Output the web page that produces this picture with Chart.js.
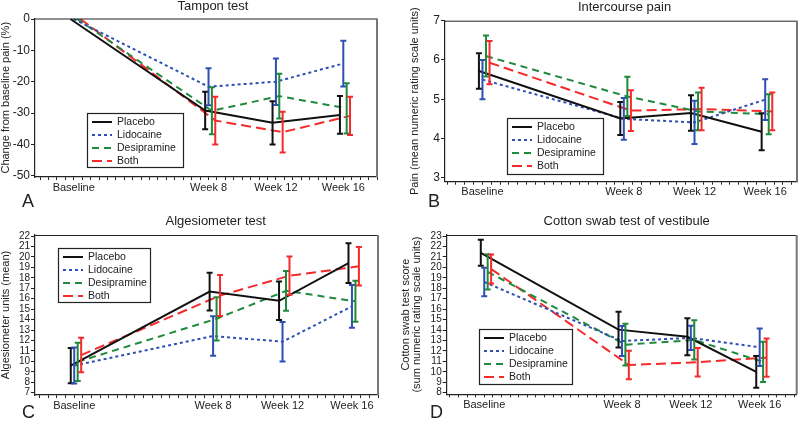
<!DOCTYPE html>
<html>
<head>
<meta charset="utf-8">
<script src="https://cdn.jsdelivr.net/npm/chart.js@4/dist/chart.umd.min.js"></script>
<style>
  html, body { margin: 0; padding: 0; background: #fff; }
  #wrap { position: relative; width: 800px; height: 422px; }
  #wrap canvas { position: absolute; }
</style>
</head>
<body>
<div id="wrap">
  <canvas id="cA" width="400" height="211" style="left:0;top:0"></canvas>
  <canvas id="cB" width="400" height="211" style="left:400px;top:0"></canvas>
  <canvas id="cC" width="400" height="211" style="left:0;top:211px"></canvas>
  <canvas id="cD" width="400" height="211" style="left:400px;top:211px"></canvas>
</div>
<script>
// ── 数据 ──────────────────────
const weeks = [0, 8, 12, 16];
const weekLabels = ['Baseline', 'Week 8', 'Week 12', 'Week 16'];
const seriesNames = ['Placebo', 'Lidocaine', 'Desipramine', 'Both'];
// 各组在同一时间点上的左右错开（周）
const seriesShift = [-0.2, 0, 0.2, 0.4];

// A: Tampon test (change from baseline pain, %) — 行 = Placebo, Lidocaine, Desipramine, Both
const tamponMeans = [
  [0, -29.2, -33.1, -30.6],
  [0, -21.6, -20.0, -14.2],
  [0, -29.3, -24.6, -28.5],
  [0, -32.4, -36.1, -30.9],
];
const tamponErrs = [
  [0, 6.0, 6.9, 6.0],
  [0, 5.9, 7.4, 7.3],
  [0, 7.5, 7.1, 8.0],
  [0, 7.6, 6.5, 6.1],
];

// B: Intercourse pain
const intercourseMeans = [
  [5.72, 4.51, 4.65, 4.17],
  [5.50, 4.50, 4.41, 4.99],
  [6.10, 5.07, 4.69, 4.62],
  [5.93, 4.71, 4.75, 4.69],
];
const intercourseErrs = [
  [0.45, 0.42, 0.45, 0.47],
  [0.50, 0.53, 0.55, 0.52],
  [0.52, 0.50, 0.48, 0.51],
  [0.55, 0.52, 0.54, 0.48],
];

// C: Algesiometer test
const algesioMeans = [
  [9.60, 16.68, 15.80, 19.40],
  [9.60, 12.43, 11.88, 15.27],
  [9.96, 14.08, 16.75, 15.75],
  [10.60, 16.30, 18.20, 19.10],
];
const algesioErrs = [
  [1.69, 1.80, 1.85, 1.90],
  [1.72, 1.90, 1.90, 2.04],
  [1.83, 2.07, 1.90, 1.96],
  [1.65, 1.96, 1.83, 1.84],
];

// D: Cotton swab test of vestibule
const swabMeans = [
  [21.40, 14.04, 13.36, 9.99],
  [18.60, 12.95, 13.25, 12.35],
  [19.57, 12.60, 13.05, 10.95],
  [19.85, 10.66, 10.92, 11.36],
];
const swabErrs = [
  [1.25, 1.72, 1.76, 1.52],
  [1.36, 1.44, 1.17, 1.79],
  [1.68, 2.00, 1.88, 1.92],
  [1.39, 1.36, 1.36, 1.84],
];

// ── 样式 ──────────────────────
const FONT = '"Liberation Sans", Arial, Helvetica, sans-serif';
const INK = '#222';
const seriesColors = ['#111111', '#2f4fb5', '#1f8a3c', '#f52a2a'];
const seriesDash = [[], [3, 3], [7, 5], [10, 5]];
Chart.defaults.font.family = FONT;
Chart.defaults.color = INK;

const panels = [
  { id: 'cA', title: 'Tampon test', letter: 'A', yTitle: 'Change from baseline pain (%)',
    means: tamponMeans, errs: tamponErrs,
    xMin: -2.3, xMax: 18.0, yMin: -50.4, yMax: 0.16, yStep: 10, yTick: 12, yTitlePad: 0,
    area: { left: 35, top: 18.5, right: 377, bottom: 177 },
    titlePos: [213, 6], letterPos: [22, 207], legendBox: [87, 113, 96, 54] },
  { id: 'cB', title: 'Intercourse pain', letter: 'B', yTitle: 'Pain (mean numeric rating scale units)',
    means: intercourseMeans, errs: intercourseErrs,
    xMin: -2.12, xMax: 17.8, yMin: 2.9, yMax: 7.0, yStep: 1, yTick: 12, yTitlePad: 9.5,
    area: { left: 45, top: 20.7, right: 397, bottom: 181.7 },
    titlePos: [224.5, 7], letterPos: [28, 207], legendBox: [107, 118, 96, 56] },
  { id: 'cC', title: 'Algesiometer test', letter: 'C', yTitle: 'Algesiometer units (mean)',
    means: algesioMeans, errs: algesioErrs,
    xMin: -2.26, xMax: 17.5, yMin: 6.78, yMax: 22.1, yStep: 1, yTick: 10, yTitlePad: 0,
    area: { left: 35, top: 24, right: 378, bottom: 184 },
    titlePos: [215.7, 10], letterPos: [22, 207], legendBox: [58, 37, 92, 54] },
  { id: 'cD', title: 'Cotton swab test of vestibule', letter: 'D',
    yTitle: ['Cotton swab test score', '(sum numeric rating scale units)'],
    means: swabMeans, errs: swabErrs,
    xMin: -2.18, xMax: 18.15, yMin: 7.85, yMax: 23.1, yStep: 1, yTick: 10, yTitlePad: 0,
    area: { left: 46.7, top: 24, right: 396.7, bottom: 183.3 },
    titlePos: [226.7, 10], letterPos: [30, 207], legendBox: [79, 118, 93, 55] },
];

// ── 误差棒 ──────────────────────
const errorBars = {
  id: 'errorBars',
  afterDatasetsDraw(chart) {
    const { ctx, scales: { x, y } } = chart;
    ctx.save();
    chart.data.datasets.forEach(ds => {
      ctx.strokeStyle = ds.borderColor;
      ctx.lineWidth = 2;
      ctx.setLineDash([]);
      ds.data.forEach((p, j) => {
        const e = ds.errors[j];
        if (!e) return;
        const px = x.getPixelForValue(p.x);
        const top = y.getPixelForValue(p.y + e);
        const bot = y.getPixelForValue(p.y - e);
        ctx.beginPath();
        ctx.moveTo(px, top); ctx.lineTo(px, bot);
        ctx.moveTo(px - 3, top); ctx.lineTo(px + 3, top);
        ctx.moveTo(px - 3, bot); ctx.lineTo(px + 3, bot);
        ctx.stroke();
      });
    });
    ctx.restore();
  }
};

// ── 边框 / 标题 / 字母 / 图例 ──────────────────────
const panelDecor = {
  id: 'panelDecor',
  afterDraw(chart, args, o) {
    const { ctx, chartArea: a } = chart;
    ctx.save();
    ctx.setLineDash([]);
    ctx.strokeStyle = INK; ctx.lineWidth = 1;
    ctx.beginPath(); ctx.moveTo(a.left, a.top + 0.5); ctx.lineTo(a.right, a.top + 0.5); ctx.stroke();
    ctx.strokeStyle = '#777'; ctx.lineWidth = 2;
    ctx.beginPath(); ctx.moveTo(a.right, a.top); ctx.lineTo(a.right, a.bottom); ctx.stroke();

    ctx.fillStyle = INK;
    ctx.font = '13px ' + FONT;
    ctx.textAlign = 'center'; ctx.textBaseline = 'middle';
    ctx.fillText(o.title, o.titlePos[0], o.titlePos[1]);

    ctx.font = '18px ' + FONT;
    ctx.textAlign = 'left'; ctx.textBaseline = 'alphabetic';
    ctx.fillText(o.letter, o.letterPos[0], o.letterPos[1]);

    // 图例
    const [lx, ly, lw, lh] = o.legendBox;
    ctx.fillStyle = '#fff';
    ctx.fillRect(lx, ly, lw, lh);
    ctx.strokeStyle = INK; ctx.lineWidth = 1.2;
    ctx.strokeRect(lx + 0.5, ly + 0.5, lw, lh);
    ctx.font = '10.5px ' + FONT;
    ctx.textBaseline = 'middle';
    chart.data.datasets.forEach((ds, i) => {
      const ry = ly + 9 + i * 13;
      ctx.strokeStyle = ds.borderColor; ctx.lineWidth = 2;
      ctx.setLineDash(ds.borderDash);
      ctx.beginPath(); ctx.moveTo(lx + 5, ry); ctx.lineTo(lx + 25, ry); ctx.stroke();
      ctx.setLineDash([]);
      ctx.fillStyle = INK;
      ctx.fillText(ds.label, lx + 30, ry + 0.5);
    });
    ctx.restore();
  }
};

function weekLabel(v) {
  const k = weeks.findIndex(w => Math.abs(w - v) < 1e-6);
  return k >= 0 ? weekLabels[k] : '';
}

function buildPanel(p) {
  const datasets = seriesNames.map((name, i) => ({
    label: name,
    data: weeks.map((w, j) => ({ x: w + seriesShift[i], y: p.means[i][j] })),
    errors: p.errs[i],
    borderColor: seriesColors[i],
    borderDash: seriesDash[i],
    borderWidth: 2,
    pointRadius: 0,
    fill: false,
    tension: 0,
  }));

  new Chart(document.getElementById(p.id), {
    type: 'line',
    data: { datasets },
    options: {
      responsive: false,
      animation: false,
      layout: { padding: { top: p.area.top, right: 400 - p.area.right, left: 0, bottom: 0 } },
      plugins: {
        legend: { display: false },
        tooltip: { enabled: false },
        panelDecor: { title: p.title, letter: p.letter, titlePos: p.titlePos,
                      letterPos: p.letterPos, legendBox: p.legendBox },
      },
      scales: {
        x: {
          type: 'linear',
          min: p.xMin, max: p.xMax,
          afterFit: s => { s.height = 211 - p.area.bottom; },
          ticks: { stepSize: 0.5, autoSkip: false, maxRotation: 0, includeBounds: false,
                   padding: 1, font: { size: 11 }, color: INK, callback: v => weekLabel(v) },
          grid: { drawOnChartArea: false, tickLength: 3, color: INK },
          border: { color: INK, width: 1.2 },
        },
        y: {
          type: 'linear',
          min: p.yMin, max: p.yMax,
          afterFit: s => { s.width = p.area.left; },
          ticks: { stepSize: p.yStep, autoSkip: false, includeBounds: false, padding: 1,
                   font: { size: p.yTick }, color: INK },
          grid: { drawOnChartArea: false, tickLength: 4, color: INK },
          border: { color: INK, width: 1.2 },
          title: { display: true, text: p.yTitle, color: INK,
                   font: { size: 11, lineHeight: 1 }, padding: { top: p.yTitlePad, bottom: 0 } },
        },
      },
    },
    plugins: [errorBars, panelDecor],
  });
}

panels.forEach(buildPanel);
</script>
</body>
</html>
